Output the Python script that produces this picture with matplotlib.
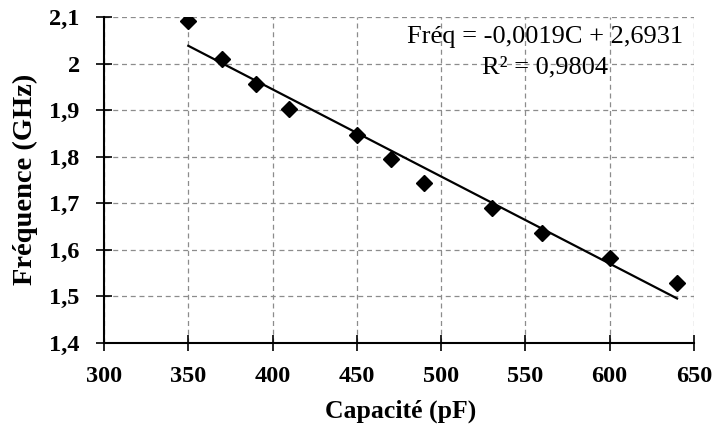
import numpy as np
import matplotlib
matplotlib.use("Agg")
import matplotlib.pyplot as plt
from matplotlib.ticker import FuncFormatter

# capacite (pF) et frequence mesuree (GHz)
capacite = [350, 370, 390, 410, 450, 470, 490, 530, 560, 600, 640]
frequence = [2.091, 2.010, 1.956, 1.902, 1.847, 1.795, 1.744, 1.690, 1.636, 1.583, 1.529]
x_ticks = [300, 350, 400, 450, 500, 550, 600, 650]
y_ticks = [1.4, 1.5, 1.6, 1.7, 1.8, 1.9, 2.0, 2.1]
eq_ligne1 = "Fréq = -0,0019C + 2,6931"
eq_ligne2 = "R² = 0,9804"

plt.rcParams['font.family'] = ['Liberation Serif', 'DejaVu Serif']

fig = plt.figure(figsize=(7.15, 4.3), dpi=100)
ax = fig.add_axes([0.1455, 0.2023, 0.825, 0.758])

# droite de tendance
c = np.array(capacite)
a, b = np.polyfit(c, frequence, 1)
ax.plot([c.min(), c.max()], [a*c.min()+b, a*c.max()+b], color='black', lw=1.6, zorder=3)

ax.plot(capacite, frequence, linestyle='none', marker='D', markersize=8.6,
        color='black', zorder=4)

ax.set_xlim(300, 650)
ax.set_ylim(1.4, 2.1)
ax.set_xticks(x_ticks)
ax.set_yticks(y_ticks)
fmt = FuncFormatter(lambda v, p: ('%g' % round(v, 2)).replace('.', ','))
ax.yaxis.set_major_formatter(fmt)
ax.grid(True, linestyle=(0, (4, 3)), color='#8c8c8c', lw=0.9)
ax.set_axisbelow(True)
for s in ['top', 'right']:
    ax.spines[s].set_visible(False)
for s in ['left', 'bottom']:
    ax.spines[s].set_linewidth(1.5)
ax.tick_params(direction='inout', length=11, width=1.2, labelsize=17.5)
ax.tick_params(axis='x', pad=11)
ax.tick_params(axis='y', pad=12)
for lab in ax.get_xticklabels() + ax.get_yticklabels():
    lab.set_fontweight('bold')

fig.text(401/715, 1 - 411/430, 'Capacité (pF)', fontsize=18.5, fontweight='bold',
         ha='center', va='center')
fig.text(25/715, 1 - 179/430, 'Fréquence (GHz)', fontsize=20.5, fontweight='bold',
         ha='center', va='center', rotation=90)

ax.text(0.747, 0.920, eq_ligne1, transform=ax.transAxes, ha='center', va='baseline',
        fontsize=19)
ax.text(0.747, 0.828, eq_ligne2, transform=ax.transAxes, ha='center', va='baseline',
        fontsize=19)

fig.savefig('out.png', dpi=100)
